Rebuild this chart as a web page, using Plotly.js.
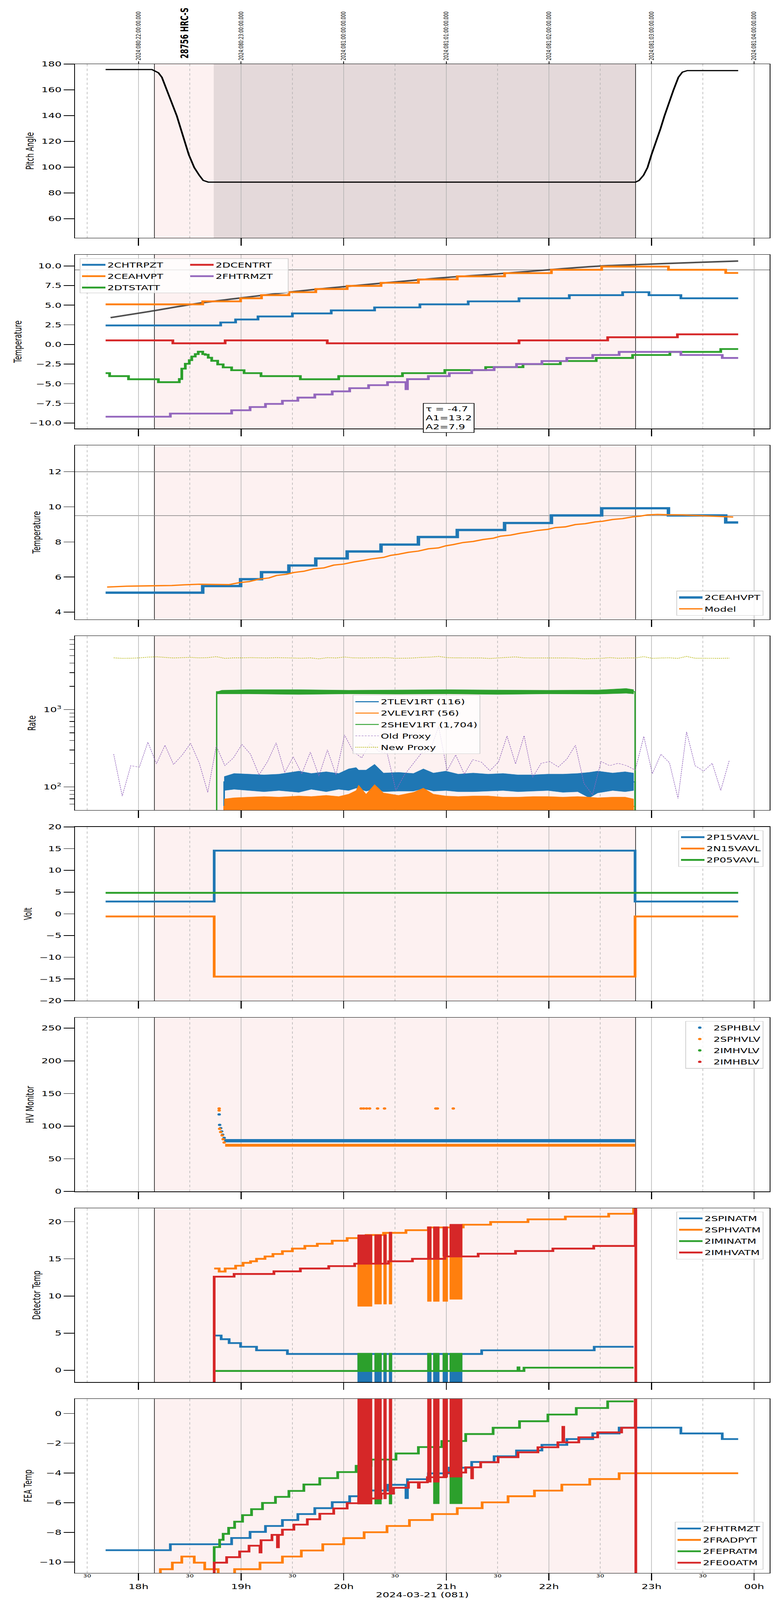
<!DOCTYPE html>
<html>
<head>
<meta charset="utf-8">
<script src="https://cdn.plot.ly/plotly-3.0.1.min.js"></script>
<style>body{margin:0;background:#fff;overflow:hidden}</style>
</head>
<body>
<div id="chart" style="width:2000px;height:6200px;transform-origin:0 0"></div>
<script>
// ---- time axis ----
const hourTicks = ['18:00','19:00','20:00','21:00','22:00','23:00','24:00'];
const hourText = ['18h','19h','20h','21h','22h','23h','00h'];
const halfTicks = ['17:30','18:30','19:30','20:30','21:30','22:30','23:30'];
const topText = ['2024:080:22:00:00.000','2024:080:23:00:00.000','2024:081:00:00:00.000',
  '2024:081:01:00:00.000','2024:081:02:00:00.000','2024:081:03:00:00.000','2024:081:04:00:00.000'];
const xStart = '17:22:52', xEnd = '24:09:06';
const obsStart = '18:09:19', obsEnd = '22:50:41', pitchSettled = '18:44:00';
const obsLabel = '28756 HRC-S', obsLabelTime = '18:26:48';

// ---- panel 1: pitch ----
const pitchT = ['17:40:47','18:07:52','18:11:39','18:13:41','18:16:36','18:19:31','18:22:26','18:24:45','18:27:05','18:29:25',
  '18:32:37','18:35:32','18:37:52','18:40:47','22:50:41','22:52:43','22:55:20','22:57:40','23:00:00','23:02:37',
  '23:05:14','23:07:34','23:10:11','23:12:49','23:15:44','23:18:04','23:20:58','23:50:41'];
const pitchV = [175.7,175.7,173.2,169.7,159.7,149.7,139.7,129.7,119.7,109.7,
  99.7,93.7,89.7,88.4,88.4,89.7,93.7,99.7,109.7,119.7,
  129.7,139.7,149.7,159.7,169.7,173.7,174.9,174.9];

// ---- panel 2: temperatures ----
const chtrpztT = ['17:40:47','18:48:04','18:56:48','19:09:54','19:30:00','19:52:43','20:18:04','20:44:34','21:12:49','21:42:31','22:11:56','22:43:07','22:58:32','23:17:11','23:50:41'];
const chtrpztV = [2.42,2.80,3.18,3.57,3.95,4.34,4.72,5.11,5.49,5.88,6.28,6.66,6.28,5.88,5.88];
const ceahvptT = ['17:40:47','18:37:34','18:59:43','19:11:57','19:27:58','19:43:41','20:02:02','20:21:50','20:43:41','21:06:25','21:34:05','22:01:28','22:30:52','23:09:54','23:43:24','23:50:41'];
const ceahvptV = [5.11,5.49,5.88,6.28,6.66,7.06,7.46,7.85,8.28,8.68,9.08,9.51,9.92,9.51,9.11,9.11];
const dtstattT = ['17:40:47','17:43:07','17:54:10','18:11:39','18:23:53','18:25:20','18:27:23','18:29:43','18:31:10','18:33:12',
  '18:34:57','18:37:34','18:39:02','18:40:47','18:42:49','18:46:19','18:49:31','18:54:28','19:01:45','19:11:39',
  '19:34:40','19:57:05','20:34:22','20:59:08','21:23:01','21:44:51','22:06:42','22:27:40','22:48:56','23:10:46','23:40:29','23:50:41'];
const dtstattV = [-3.65,-4.03,-4.43,-4.80,-4.40,-3.08,-2.46,-2.00,-1.54,-1.23,
  -0.92,-1.23,-1.31,-1.69,-2.08,-2.54,-2.92,-3.28,-3.65,-4.03,
  -4.43,-4.03,-3.65,-3.26,-2.89,-2.51,-2.11,-1.72,-1.34,-0.95,-0.58,-0.58];
const dcentrtT = ['17:40:47','18:20:06','18:50:41','19:50:23','21:42:31','22:34:22','23:15:09','23:50:41'];
const dcentrtV = [0.52,0.15,0.52,0.15,0.52,0.92,1.29,1.29];
const fhtrmztT = ['17:40:47','18:18:38','18:54:28','19:05:15','19:14:16','19:24:10','19:33:12','19:43:06','19:53:18','20:03:30',
  '20:14:34','20:25:38','20:36:25','20:37:17','20:49:31','21:01:45','21:14:51','21:27:58','21:41:04','21:55:55',
  '22:10:29','22:25:38','22:41:04','23:17:11','23:41:22','23:50:41'];
const fhtrmztV = [-9.20,-8.80,-8.38,-7.97,-7.57,-7.17,-6.77,-6.37,-5.97,-5.57,
  -5.18,-4.80,-5.69,-4.42,-4.03,-3.65,-3.26,-2.88,-2.49,-2.11,
  -1.72,-1.34,-0.95,-1.34,-1.72,-1.72];
const fitT = ['17:43:41','18:06:25','18:35:32','19:04:39','19:33:47','20:02:55','20:32:02','21:01:10','21:30:17','21:59:25','22:28:32','22:57:40','23:26:48','23:50:41'];
const fitV = [3.42,4.20,5.25,6.05,6.80,7.42,8.00,8.55,9.00,9.50,9.97,10.22,10.45,10.62];
const tempLimits2 = [9.5];
const fitText = 'τ = -4.7<br>A1=13.2<br>A2=7.9';

// ---- panel 3: 2CEAHVPT vs model ----
const modelT = ['17:41:39','17:53:18','18:06:25','18:19:31','18:26:48','18:35:32','18:53:01','18:58:50','19:04:39','19:10:29',
  '19:16:19','19:20:41','19:26:30','19:30:52','19:36:42','19:42:31','19:48:21','19:54:10','20:00:00','20:05:50',
  '20:11:39','20:16:01','20:23:18','20:27:40','20:32:02','20:37:52','20:43:41','20:49:31','20:55:20','20:59:43',
  '21:04:05','21:09:54','21:15:44','21:21:33','21:27:23','21:31:45','21:37:34','21:43:24','21:47:46','21:53:35',
  '21:59:25','22:03:47','22:09:37','22:15:26','22:21:16','22:27:05','22:31:28','22:37:17','22:43:07','22:48:56',
  '22:53:18','22:57:40','23:03:30','23:09:19','23:18:04','23:26:48','23:35:32','23:41:22','23:47:46'];
const modelV = [5.43,5.48,5.50,5.52,5.56,5.59,5.57,5.68,5.74,5.88,
  5.95,6.09,6.16,6.26,6.33,6.47,6.52,6.68,6.74,6.86,
  6.95,7.03,7.12,7.24,7.30,7.41,7.48,7.61,7.66,7.78,
  7.85,7.97,8.03,8.14,8.21,8.33,8.39,8.50,8.56,8.66,
  8.72,8.82,8.86,8.99,9.04,9.14,9.18,9.28,9.33,9.43,
  9.47,9.54,9.57,9.55,9.54,9.50,9.47,9.45,9.42];
const tempLimits3 = [12, 9.5];

// ---- panel 4: rates ----
const rateT = ['18:50:06','18:55:55','19:04:39','19:13:24','19:22:08','19:33:47','19:41:04','19:49:48','19:57:05','20:02:55',
  '20:07:17','20:08:44','20:13:07','20:18:04','20:23:18','20:32:02','20:40:47','20:46:36','20:52:26','20:59:43',
  '21:06:59','21:15:44','21:24:28','21:33:12','21:41:56','21:50:41','21:59:25','22:08:10','22:16:53','22:23:35',
  '22:28:32','22:37:17','22:44:34','22:49:31'];
const tlevHi = [136,149,146,143,146,160,149,157,149,171,178,165,165,196,151,154,149,171,151,160,
  146,151,146,149,143,143,146,146,149,154,160,151,157,151];
const tlevLo = [89.8,93.1,89.8,86.6,89.8,85.0,93.1,86.6,93.1,89.8,96.5,94.8,88.2,93.1,86.6,88.2,88.2,94.8,88.2,89.8,
  86.6,86.6,88.2,89.8,86.6,88.2,89.8,85.0,86.6,72.3,83.5,89.8,86.6,89.8];
const vlevHi = [69.8,72.3,73.7,75.0,73.7,76.3,75.0,77.7,75.0,80.6,89.8,105.5,80.6,107.5,83.5,77.7,85.0,96.5,80.6,76.3,
  75.0,76.3,76.3,73.7,73.7,75.0,75.0,73.7,75.0,73.7,72.3,73.7,73.7,69.8];
const shevT = ['18:45:44','18:48:38','19:04:39','19:33:47','20:02:55','20:32:02','21:01:10','21:30:17','21:59:25','22:28:32','22:45:09','22:49:31'];
const shevHi = [1685,1778,1811,1811,1778,1791,1811,1791,1778,1791,1877,1811];
const shevLo = [1596,1596,1596,1568,1596,1584,1596,1568,1596,1584,1625,1596];
const rateMeans = {tlev: 116, vlev: 56, shev: 1704};
const hrcOnT = ['18:50:06','22:50:23'];
const shevOnT = ['18:45:44','22:50:23'];
const RATE_FLOOR = 10;
const proxyT0 = '17:45:30', proxyStepMin = 5;
const oldProxyV = [265,76,188,180,378,199,346,195,257,366,205,85,340,188,237,355,265,143,213,371,
  154,245,148,282,138,301,143,469,289,237,366,289,269,90,143,198,274,293,606,162,
  259,146,225,209,162,209,455,198,460,133,202,213,181,229,346,111,79,213,188,202,
  188,165,449,148,265,205,71,514,188,160,202,90,221];
const newProxyV = [4665,4598,4615,4665,4766,4817,4732,4648,4698,4732,4665,4698,4835,4598,4665,4665,4698,4665,4648,4698,
  4665,4648,4615,4665,4532,4698,4648,4783,4665,4648,4665,4681,4698,4598,4615,4648,4732,4766,4870,4698,
  4665,4665,4665,4648,4581,4665,4732,4800,4665,4648,4648,4665,4648,4648,4631,4532,4565,4598,4698,4615,
  4648,4648,4835,4598,4648,4665,4598,4870,4615,4615,4598,4598,4631];

// ---- panel 5: voltages ----
const voltT = ['17:40:47','18:44:16','22:50:23','23:50:41'];
const p15V = [2.83,14.53,2.83,2.83];
const n15V = [-0.61,-14.44,-0.61,-0.61];
const p05T = ['17:40:47','23:50:41'];
const p05V = [4.83,4.83];

// ---- panel 6: HV monitor ----
const sphbT = ['18:47:11','18:47:28','18:48:04','18:48:38','18:49:13','18:50:06'];
const sphbV = [118,102,97,92,87,82];
const sphbBandT = ['18:50:06','22:50:23'];
const sphbBandV = [77.7,77.7];
const sphvT = ['18:47:11','18:47:11','18:47:28','18:48:04','18:48:56','18:49:31','18:50:06',
  '20:10:12','20:11:39','20:13:24','20:15:09','20:19:48','20:23:53','20:53:53','20:54:46','21:04:05'];
const sphvV = [127,124,96,91,86,80,75,127,127,127,127,127,127,127,127,127];
const sphvBandT = ['18:50:41','22:50:23'];
const sphvBandV = [70.8,70.8];

// ---- panel 7: detector temps ----
const glitchStart = ['20:08:10','20:18:04','20:23:18','20:26:30','20:48:56','20:52:26','20:57:58','21:02:02'];
const glitchEnd = ['20:16:36','20:22:08','20:25:03','20:28:15','20:51:16','20:55:55','21:00:52','21:09:19'];
const spinatmT = ['18:44:16','18:48:21','18:53:01','18:59:43','19:09:02','19:27:05','21:20:41','22:26:30','22:49:31'];
const spinatmV = [4.68,4.19,3.67,3.17,2.70,2.21,2.70,3.17,3.17];
const spinatmGlLo = [-3,-3,-3,-3,-3,-3,-3,-3];
const spinatmGlHi = [2.21,2.21,2.21,2.21,2.21,2.21,2.21,2.21];
const sphvatmT = ['18:44:16','18:47:11','18:50:41','18:56:48','19:01:10','19:05:32','19:09:02','19:13:59','19:18:38','19:24:10',
  '19:30:00','19:37:17','19:44:34','19:53:18','20:02:02','20:13:07','20:23:18','20:36:25','20:49:31','21:09:54',
  '21:25:55','21:47:46','22:09:37','22:34:57','22:49:31','22:50:41'];
const sphvatmV = [13.70,13.29,13.70,14.07,14.46,14.67,15.00,15.32,15.65,16.02,
  16.38,16.73,17.03,17.43,17.79,18.20,18.49,18.85,19.22,19.59,
  19.95,20.31,20.68,21.06,40,40];
const sphvatmGlLo = [8.61,8.9,8.9,8.9,9.26,9.26,9.26,9.55];
const sphvatmGlHi = [18.2,18.2,18.49,18.49,19.22,19.22,19.22,19.59];
const iminatmT = ['18:44:16','21:41:56','21:42:30','21:45:26','22:49:31'];
const iminatmV = [-0.08,0.40,-0.08,0.36,0.36];
const iminatmGlLo = [-0.08,-0.08,-0.08,-0.08,-0.08,-0.08,-0.08,-0.08];
const iminatmGlHi = [2.32,2.32,2.32,2.32,2.32,2.32,2.32,2.32];
const imhvatmT = ['18:44:10','18:44:16','18:55:55','19:19:13','19:34:40','19:51:16','20:06:25','20:26:13','20:40:12','20:59:08',
  '21:18:38','21:40:29','22:02:20','22:26:13','22:50:30','22:50:50'];
const imhvatmV = [-5,12.60,12.96,13.32,13.70,14.02,14.35,14.67,15.00,15.32,15.69,16.05,16.38,16.73,40,-5];
const imhvatmGlLo = [14.35,14.35,14.35,14.67,15.0,15.0,15.32,15.32];
const imhvatmGlHi = [18.24,18.24,18.24,18.6,19.33,19.33,19.33,19.66];

// ---- panel 8: FEA temps ----
const fradpytT = ['17:40:47','18:12:49','18:19:48','18:25:20','18:32:37','18:38:44','18:46:36','18:56:13','19:11:04','19:24:10',
  '19:35:14','19:47:46','20:00:00','20:11:57','20:25:20','20:38:27','20:51:50','21:06:25','21:20:58','21:36:07',
  '21:51:33','22:07:34','22:23:53','22:41:04','23:50:41'];
const fradpytV = [-10.9,-10.48,-10.04,-9.63,-10.04,-10.48,-10.9,-10.48,-10.04,-9.63,
  -9.22,-8.80,-8.39,-7.99,-7.57,-7.17,-6.77,-6.37,-5.98,-5.57,
  -5.19,-4.79,-4.41,-4.02,-4.02];
const fepratmT = ['18:44:10','18:44:16','18:47:28','18:49:31','18:52:43','18:56:13','19:00:52','19:06:07','19:12:31','19:20:06',
  '19:27:58','19:36:42','19:46:01','19:56:30','20:07:17','20:16:01','20:30:35','20:43:41','20:57:23','21:11:21',
  '21:27:23','21:42:49','21:59:25','22:16:01','22:34:22','22:49:31'];
const fepratmV = [-11,-8.99,-8.50,-8.10,-7.70,-7.28,-6.84,-6.44,-6.02,-5.61,
  -5.21,-4.78,-4.35,-3.94,-3.52,-3.10,-2.69,-2.26,-1.85,-1.38,
  -0.96,-0.52,-0.07,0.37,0.82,0.82];
const fepratmGlLo = [-6.1,-6.1,null,-6.1,null,-6.08,null,-6.08];
const fepratmGlHi = [-3.52,-3.10,null,-3.10,null,-2.26,null,-1.85];
const fe00atmT = ['18:44:10','18:44:16','18:51:33','18:59:08','19:04:39','19:11:04','19:11:40','19:18:04','19:21:16','19:21:50',
  '19:24:10','19:30:52','19:38:44','19:46:01','19:54:10','20:02:02','20:08:44','20:21:50','20:29:08','20:37:52',
  '20:43:41','20:44:10','20:48:56','20:59:43','21:11:21','21:14:51','21:15:20','21:20:06','21:30:17','21:41:56',
  '21:53:35','22:05:15','22:08:10','22:08:40','22:17:29','22:28:32','22:42:31','22:50:30','22:50:50'];
const fe00atmV = [-12,-10.04,-9.67,-9.29,-8.90,-9.35,-8.53,-8.17,-9.00,-8.17,
  -7.82,-7.48,-7.12,-6.75,-6.39,-6.04,-5.72,-5.39,-5.00,-4.63,
  -5.00,-4.63,-4.29,-3.97,-3.62,-4.36,-3.62,-3.28,-2.94,-2.61,
  -2.27,-1.94,-0.90,-1.94,-1.60,-1.27,-0.96,3,-12];
const fe00atmGlLo = [-6.1,-5.75,-5.75,-5.4,-4.63,-4.63,-4.29,-4.29];
const fe00atmGlHi = [2,2,2,2,2,2,2,2];

// ---- helpers ----
function D(s) {
  const p = s.split(':').map(Number);
  const d = new Date(Date.UTC(2024, 2, 21, p[0], p[1], p[2] || 0));
  return d.toISOString().slice(0, 19).replace('T', ' ');
}
function addMin(s, m) {
  const p = s.split(':').map(Number);
  const tot = p[0] * 3600 + p[1] * 60 + (p[2] || 0) + m * 60;
  const hh = Math.floor(tot / 3600), mm = Math.floor(tot % 3600 / 60), ss = tot % 60;
  return hh + ':' + mm + ':' + ss;
}
const proxyT = oldProxyV.map((_, k) => addMin(proxyT0, proxyStepMin * k));

const W = 2000, H = 6200, ML = 192, MR = 29, MT = 248, MB = 105;
const PW = W - ML - MR, PH = H - MT - MB;
const px2x = px => (px - ML) / PW;
const px2y = py => (H - MB - py) / PH;
const PANEL_TOP = 248, PANEL_H = 674, PANEL_STEP = 739;
function dom(i) {
  const top = PANEL_TOP + i * PANEL_STEP;
  return [Math.max(0, px2y(top + PANEL_H)), Math.min(1, px2y(top))];
}
const sfx = i => (i ? String(i + 1) : '');
const ax = i => ({xaxis: 'x' + sfx(i), yaxis: 'y' + sfx(i)});

const C = {blue: '#1f77b4', orange: '#ff7f0e', green: '#2ca02c', red: '#d62728', purple: '#9467bd', olive: '#bcbd22'};

function step(i, t, v, name, color, width, legend) {
  return Object.assign({x: t.map(D), y: v, mode: 'lines', line: {shape: 'hv', color: color, width: width},
    name: name, legendgroup: name, showlegend: !!legend, legend: legend || 'legend'}, ax(i));
}
function blocks(i, lo, hi, color, group) {
  const x = [], y = [];
  glitchStart.forEach((s, k) => {
    if (lo[k] == null) return;
    const a = D(s), b = D(glitchEnd[k]);
    x.push(a, b, b, a, a, null);
    y.push(lo[k], lo[k], hi[k], hi[k], lo[k], null);
  });
  return Object.assign({x: x, y: y, mode: 'lines', fill: 'toself', fillcolor: color,
    line: {color: color, width: 1}, showlegend: false, legendgroup: group}, ax(i));
}
function band(i, t, hi, lo, color, group) {
  const tx = t.map(D);
  return Object.assign({x: tx.concat(tx.slice().reverse()), y: hi.concat(lo.slice().reverse()),
    mode: 'lines', fill: 'toself', fillcolor: color, line: {color: color, width: 1},
    showlegend: false, legendgroup: group}, ax(i));
}
function edge(i, t, mean, name, color, width) {
  const tx = [t[0], t[0], t[1], t[1]].map(D);
  return Object.assign({x: tx, y: [RATE_FLOOR, mean, mean, RATE_FLOOR], mode: 'lines',
    line: {color: color, width: width}, name: name, legendgroup: name, legend: 'legend4'}, ax(i));
}
// carries an axis that only holds labels
function holder(xa, ya) {
  return {x: [D(xStart)], y: [null], xaxis: xa, yaxis: ya, mode: 'lines', showlegend: false, hoverinfo: 'skip'};
}

const traces = [];
// panel 1
traces.push(Object.assign({x: pitchT.map(D), y: pitchV, mode: 'lines', line: {color: '#000', width: 4.5}, showlegend: false}, ax(0)));
// panel 2
traces.push(Object.assign({x: fitT.map(D), y: fitV, mode: 'lines', line: {color: 'rgba(60,60,60,0.9)', width: 6, shape: 'spline'}, showlegend: false}, ax(1)));
traces.push(step(1, chtrpztT, chtrpztV, '2CHTRPZT', C.blue, 7, 'legend'));
traces.push(step(1, ceahvptT, ceahvptV, '2CEAHVPT', C.orange, 7, 'legend'));
traces.push(step(1, dtstattT, dtstattV, '2DTSTATT', C.green, 7, 'legend'));
traces.push(step(1, dcentrtT, dcentrtV, '2DCENTRT', C.red, 7, 'legend2'));
traces.push(step(1, fhtrmztT, fhtrmztV, '2FHTRMZT', C.purple, 7, 'legend2'));
// panel 3
traces.push(step(2, ceahvptT, ceahvptV, '2CEAHVPT', C.blue, 9, 'legend3'));
traces.push(Object.assign({x: modelT.map(D), y: modelV, mode: 'lines', line: {color: C.orange, width: 5},
  name: 'Model', legendgroup: 'Model', legend: 'legend3'}, ax(2)));
// panel 4
const vlevBase = vlevHi.map(() => RATE_FLOOR);
traces.push(band(3, rateT, tlevHi, tlevLo, C.blue, 'tlev'));
traces.push(edge(3, hrcOnT, rateMeans.tlev, '2TLEV1RT (116)', C.blue, 4));
traces.push(band(3, rateT, vlevHi, vlevBase, C.orange, 'vlev'));
traces.push(edge(3, hrcOnT, rateMeans.vlev, '2VLEV1RT (56)', C.orange, 4));
traces.push(band(3, shevT, shevHi, shevLo, C.green, 'shev'));
traces.push(edge(3, shevOnT, rateMeans.shev, '2SHEV1RT (1,704)', C.green, 3.5));
traces.push(Object.assign({x: proxyT.map(D), y: oldProxyV, mode: 'lines', line: {color: C.purple, width: 1.6, dash: '5px,3px'},
  name: 'Old Proxy', legendgroup: 'Old Proxy', legend: 'legend4'}, ax(3)));
traces.push(Object.assign({x: proxyT.map(D), y: newProxyV, mode: 'lines', line: {color: C.olive, width: 2.5, dash: '3px,2px'},
  name: 'New Proxy', legendgroup: 'New Proxy', legend: 'legend4'}, ax(3)));
// panel 5
traces.push(step(4, voltT, p15V, '2P15VAVL', C.blue, 7, 'legend5'));
traces.push(step(4, voltT, n15V, '2N15VAVL', C.orange, 7, 'legend5'));
traces.push(step(4, p05T, p05V, '2P05VAVL', C.green, 7, 'legend5'));
// panel 6
traces.push(Object.assign({x: sphbBandT.map(D), y: sphbBandV, mode: 'lines', line: {color: C.blue, width: 13},
  showlegend: false, legendgroup: '2SPHBLV'}, ax(5)));
traces.push(Object.assign({x: sphbT.map(D), y: sphbV, mode: 'markers', marker: {color: C.blue, size: 9},
  name: '2SPHBLV', legendgroup: '2SPHBLV', legend: 'legend6'}, ax(5)));
traces.push(Object.assign({x: sphvBandT.map(D), y: sphvBandV, mode: 'lines', line: {color: C.orange, width: 11},
  showlegend: false, legendgroup: '2SPHVLV'}, ax(5)));
traces.push(Object.assign({x: sphvT.map(D), y: sphvV, mode: 'markers', marker: {color: C.orange, size: 9},
  name: '2SPHVLV', legendgroup: '2SPHVLV', legend: 'legend6'}, ax(5)));
traces.push(Object.assign({x: [D(xStart)], y: [null], mode: 'markers', marker: {color: C.green, size: 9},
  name: '2IMHVLV', legendgroup: '2IMHVLV', legend: 'legend6'}, ax(5)));
traces.push(Object.assign({x: [D(xStart)], y: [null], mode: 'markers', marker: {color: C.red, size: 9},
  name: '2IMHBLV', legendgroup: '2IMHBLV', legend: 'legend6'}, ax(5)));
// panel 7
traces.push(step(6, spinatmT, spinatmV, '2SPINATM', C.blue, 7, 'legend7'));
traces.push(blocks(6, spinatmGlLo, spinatmGlHi, C.blue, '2SPINATM'));
traces.push(step(6, sphvatmT, sphvatmV, '2SPHVATM', C.orange, 7, 'legend7'));
traces.push(blocks(6, sphvatmGlLo, sphvatmGlHi, C.orange, '2SPHVATM'));
traces.push(step(6, iminatmT, iminatmV, '2IMINATM', C.green, 7, 'legend7'));
traces.push(blocks(6, iminatmGlLo, iminatmGlHi, C.green, '2IMINATM'));
traces.push(step(6, imhvatmT, imhvatmV, '2IMHVATM', C.red, 7, 'legend7'));
traces.push(blocks(6, imhvatmGlLo, imhvatmGlHi, C.red, '2IMHVATM'));
// panel 8
traces.push(step(7, fhtrmztT, fhtrmztV, '2FHTRMZT', C.blue, 7, 'legend8'));
traces.push(step(7, fradpytT, fradpytV, '2FRADPYT', C.orange, 7, 'legend8'));
traces.push(step(7, fepratmT, fepratmV, '2FEPRATM', C.green, 7, 'legend8'));
traces.push(blocks(7, fepratmGlLo, fepratmGlHi, C.green, '2FEPRATM'));
traces.push(step(7, fe00atmT, fe00atmV, '2FE00ATM', C.red, 7, 'legend8'));
traces.push(blocks(7, fe00atmGlLo, fe00atmGlHi, C.red, '2FE00ATM'));
// label-only axes
traces.push(holder('x9', 'y8'));
traces.push(holder('x10', 'y'));

// ---- layout ----
const xRange = [D(xStart), D(xEnd)];
const layout = {
  width: W, height: H,
  margin: {l: ML, r: MR, t: MT, b: MB},
  paper_bgcolor: '#fff', plot_bgcolor: '#fff',
  font: {family: 'DejaVu Sans', size: 27, color: '#000'},
  shapes: [], annotations: []
};
const yOpts = [
  {title: 'Pitch Angle', range: [45.1, 180], dtick: 20, tick0: 0},
  {title: 'Temperature', range: [-10.72, 11.43], dtick: 2.5, tick0: 0, tickformat: '.1f'},
  {title: 'Temperature', range: [3.59, 13.5], dtick: 2, tick0: 0},
  {title: 'Rate', type: 'log', range: [1.7, 3.95]},
  {title: 'Volt', range: [-20, 20], dtick: 5, tick0: 0},
  {title: 'HV Monitor', range: [0, 266.3], dtick: 50, tick0: 0},
  {title: 'Detector Temp', range: [-1.59, 21.8], dtick: 5, tick0: 0},
  {title: 'FEA Temp', range: [-10.73, 0.98], dtick: 2, tick0: 0}
];
for (let i = 0; i < 8; i++) {
  layout['xaxis' + sfx(i)] = {
    type: 'date', range: xRange, autorange: false, anchor: 'y' + sfx(i),
    tickmode: 'array', tickvals: hourTicks.map(D), ticktext: hourText, showticklabels: i === 7,
    ticks: 'outside', ticklen: 28, tickwidth: 2.5, tickcolor: '#000', tickfont: {size: 27},
    showgrid: true, gridcolor: '#b0b0b0', gridwidth: 1.5,
    minor: {tickmode: 'array', tickvals: halfTicks.map(D), ticks: '', showgrid: true,
      gridcolor: '#b0b0b0', gridwidth: 1.5, griddash: 'dash'},
    showline: true, linecolor: '#000', linewidth: 2, mirror: true, zeroline: false
  };
  if (i === 7) layout.xaxis8.title = {text: '2024-03-21 (081)', font: {size: 27}, standoff: 8};
  const o = yOpts[i];
  const y = {
    domain: dom(i), anchor: 'x' + sfx(i), range: o.range, autorange: false,
    ticks: 'outside', ticklen: 27, tickwidth: 2.5, tickcolor: '#000', tickfont: {size: 27},
    showline: true, linecolor: '#000', linewidth: 2, mirror: true, showgrid: false, zeroline: false,
    title: {text: o.title, font: {size: 26}, standoff: 12}
  };
  if (o.type === 'log') {
    y.type = 'log';
    y.tickmode = 'array';
    y.tickvals = [100, 1000];
    y.ticktext = ['10<sup>2</sup>', '10<sup>3</sup>'];
    y.minor = {tickmode: 'array', tickvals: [60,70,80,90,200,300,400,500,600,700,800,900,2000,3000,4000,5000,6000,7000,8000],
      ticks: 'outside', ticklen: 12, tickwidth: 2, tickcolor: '#000', showgrid: false};
  } else {
    y.dtick = o.dtick; y.tick0 = o.tick0;
    if (o.tickformat) y.tickformat = o.tickformat;
  }
  layout['yaxis' + sfx(i)] = y;

  // observation shading and boundaries
  const xr = 'x' + sfx(i), yr = 'y' + sfx(i) + ' domain';
  layout.shapes.push({type: 'rect', xref: xr, yref: yr, x0: D(obsStart), x1: D(obsEnd), y0: 0, y1: 1,
    fillcolor: '#fdf1f1', line: {width: 0}, layer: 'below'});
  if (i === 0) {
    layout.shapes.push({type: 'rect', xref: xr, yref: yr, x0: D(pitchSettled), x1: D(obsEnd), y0: 0, y1: 1,
      fillcolor: '#e4d9da', line: {width: 0}, layer: 'below'});
  }
  [obsStart, obsEnd].forEach(t => layout.shapes.push({type: 'line', xref: xr, yref: yr, x0: D(t), x1: D(t), y0: 0, y1: 1,
    line: {color: '#000', width: 1.5}, layer: 'below'}));
}
tempLimits2.forEach(v => layout.shapes.push({type: 'line', xref: 'x2 domain', yref: 'y2', x0: 0, x1: 1, y0: v, y1: v,
  line: {color: '#808080', width: 2.5}, layer: 'below'}));
tempLimits3.forEach(v => layout.shapes.push({type: 'line', xref: 'x3 domain', yref: 'y3', x0: 0, x1: 1, y0: v, y1: v,
  line: {color: '#808080', width: 2.5}, layer: 'below'}));

// half-hour labels under the bottom panel
layout.xaxis9 = {type: 'date', range: xRange, autorange: false, overlaying: 'x8', anchor: 'y8', side: 'bottom',
  tickmode: 'array', tickvals: halfTicks.map(D), ticktext: halfTicks.map(() => '30'), ticks: '',
  tickfont: {size: 16}, showgrid: false, showline: false, zeroline: false};
// UTC labels above the top panel
layout.xaxis10 = {type: 'date', range: xRange, autorange: false, overlaying: 'x', anchor: 'y', side: 'top',
  tickmode: 'array', tickvals: hourTicks.map(D), ticktext: topText, tickangle: -90, tickfont: {size: 16},
  ticks: 'outside', ticklen: 10, tickwidth: 2, tickcolor: '#000', showgrid: false, showline: false, zeroline: false};

layout.annotations.push({text: '<b>' + obsLabel + '</b>', xref: 'x', yref: 'paper', x: D(obsLabelTime), y: px2y(128),
  xanchor: 'center', yanchor: 'middle', textangle: -90, showarrow: false, font: {size: 27}});
layout.annotations.push({text: fitText, xref: 'paper', yref: 'paper', x: px2x(1083), y: px2y(1562),
  xanchor: 'left', yanchor: 'top', align: 'left', showarrow: false, bgcolor: '#fff',
  bordercolor: '#000', borderwidth: 2, borderpad: 5, font: {size: 27}});

// legends
const legBase = {font: {size: 27}, bgcolor: 'rgba(255,255,255,0.8)', bordercolor: '#d0d0d0', borderwidth: 2,
  traceorder: 'grouped', tracegroupgap: 6, itemwidth: 60};
layout.legend = Object.assign({}, legBase, {x: px2x(205), y: px2y(1002), xanchor: 'left', yanchor: 'top',
  bgcolor: 'rgba(0,0,0,0)', borderwidth: 0});
layout.legend2 = Object.assign({}, legBase, {x: px2x(482), y: px2y(1002), xanchor: 'left', yanchor: 'top',
  bgcolor: 'rgba(0,0,0,0)', borderwidth: 0});
layout.shapes.push({type: 'rect', xref: 'paper', yref: 'paper', x0: px2x(205), x1: px2x(738), y0: px2y(1135), y1: px2y(1002),
  fillcolor: 'rgba(255,255,255,0.8)', line: {color: '#d0d0d0', width: 2}, layer: 'above'});
layout.legend3 = Object.assign({}, legBase, {x: px2x(1955), y: px2y(2386), xanchor: 'right', yanchor: 'bottom'});
layout.legend4 = Object.assign({}, legBase, {x: px2x(903), y: px2y(2693), xanchor: 'left', yanchor: 'top'});
layout.legend5 = Object.assign({}, legBase, {x: px2x(1955), y: px2y(3218), xanchor: 'right', yanchor: 'top'});
layout.legend6 = Object.assign({}, legBase, {x: px2x(1955), y: px2y(3956), xanchor: 'right', yanchor: 'top'});
layout.legend7 = Object.assign({}, legBase, {x: px2x(1955), y: px2y(4695), xanchor: 'right', yanchor: 'top'});
layout.legend8 = Object.assign({}, legBase, {x: px2x(1955), y: px2y(6082), xanchor: 'right', yanchor: 'bottom'});

// the window may be shorter than the figure: squeeze it vertically so all of it stays in view
const fitScale = Math.min(1, window.innerHeight / H);
if (fitScale < 1) document.getElementById('chart').style.transform = 'scaleY(' + fitScale + ')';

Plotly.newPlot('chart', traces, layout, {displayModeBar: false, staticPlot: true});
</script>
</body>
</html>
